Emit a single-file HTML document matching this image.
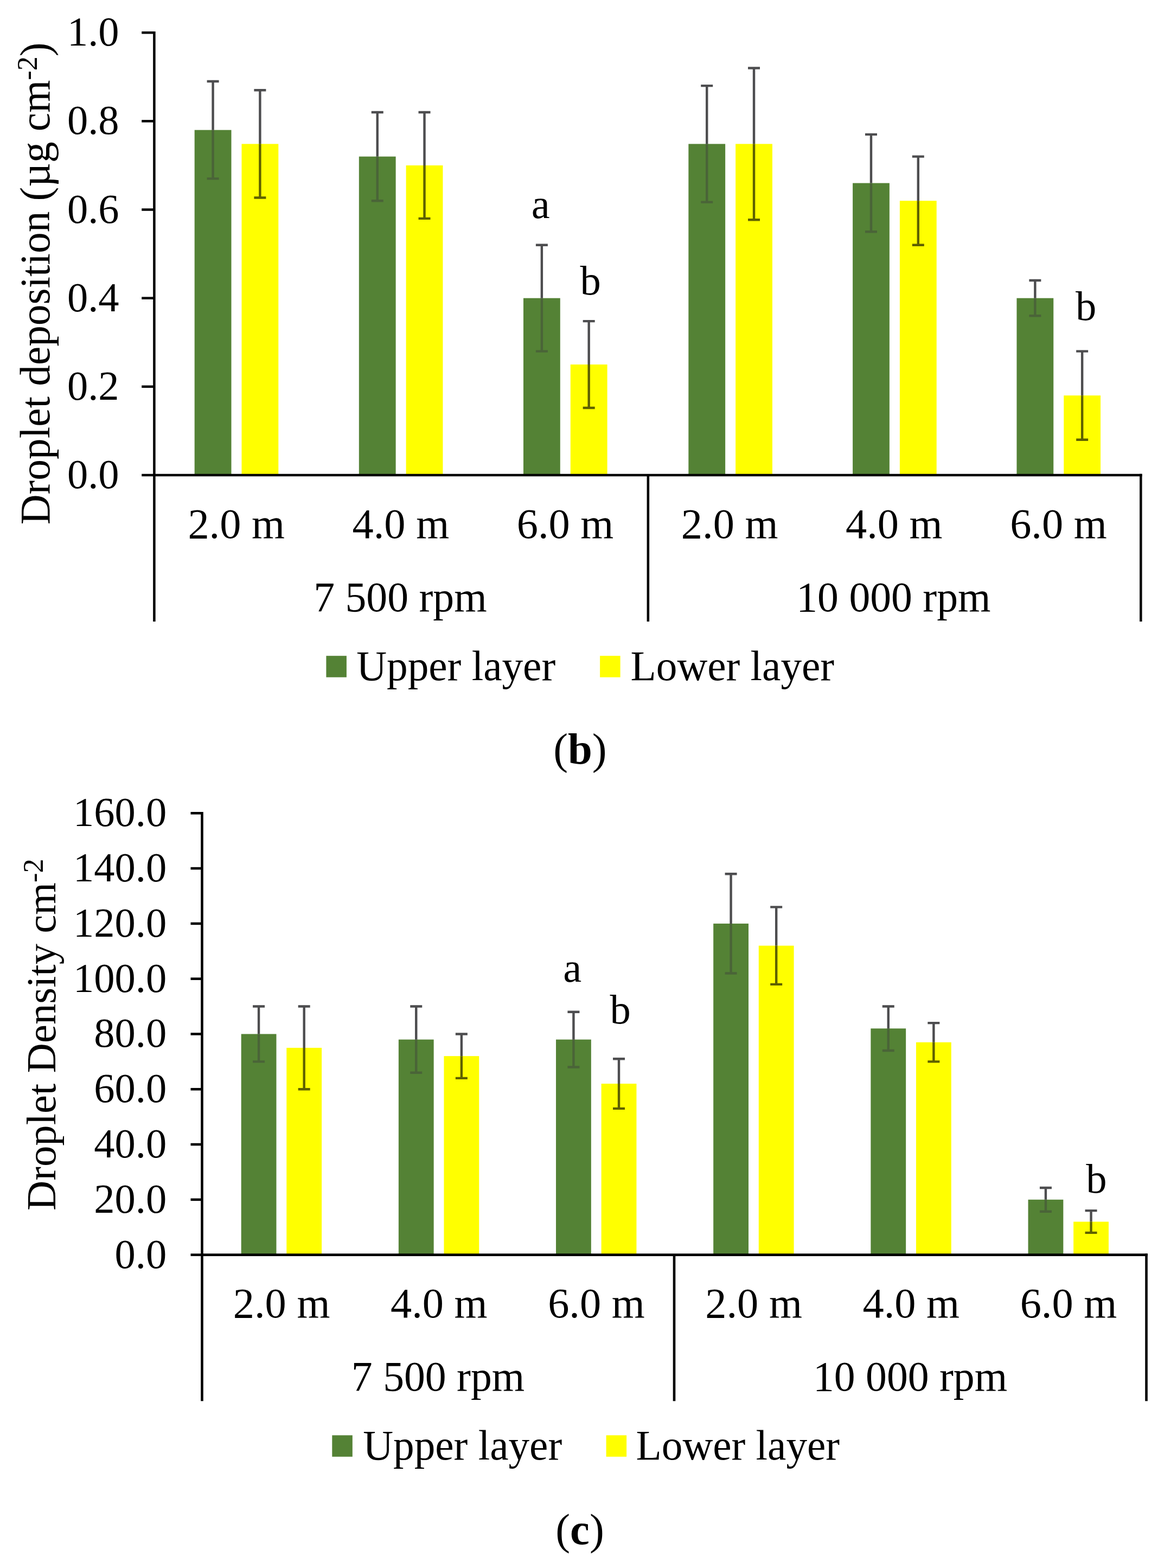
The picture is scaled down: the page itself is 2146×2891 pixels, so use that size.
<!DOCTYPE html>
<html><head><meta charset="utf-8"><title>Droplet deposition and density</title>
<style>html,body{margin:0;padding:0;background:#fff;}svg{display:block;}</style></head><body>
<svg width="2146" height="2891" viewBox="0 0 2146 2891" font-family="'Liberation Serif', 'Times New Roman', serif" fill="#000">
<rect width="2146" height="2891" fill="#fff"/>
<rect x="358.68" y="239.68" width="67.8" height="636.32" fill="#548235"/>
<rect x="445.48" y="265.37" width="67.8" height="610.63" fill="#FFFF00"/>
<rect x="661.83" y="288.62" width="67.8" height="587.38" fill="#548235"/>
<rect x="748.62" y="304.94" width="67.8" height="571.06" fill="#FFFF00"/>
<rect x="964.98" y="549.68" width="67.8" height="326.32" fill="#548235"/>
<rect x="1051.78" y="672.05" width="67.8" height="203.95" fill="#FFFF00"/>
<rect x="1269.33" y="265.37" width="67.8" height="610.63" fill="#548235"/>
<rect x="1356.13" y="265.37" width="67.8" height="610.63" fill="#FFFF00"/>
<rect x="1572.08" y="337.57" width="67.8" height="538.43" fill="#548235"/>
<rect x="1658.88" y="370.2" width="67.8" height="505.8" fill="#FFFF00"/>
<rect x="1874.43" y="549.68" width="67.8" height="326.32" fill="#548235"/>
<rect x="1961.23" y="729.16" width="67.8" height="146.84" fill="#FFFF00"/>
<path d="M392.58 149.94V239.68M381.58 149.94H403.58" stroke="#4d4d4f" stroke-width="4.4" fill="none"/>
<path d="M392.58 239.68V329.41M381.58 329.41H403.58" stroke="#4a6438" stroke-width="4.4" fill="none"/>
<path d="M479.38 166.25V265.37M468.38 166.25H490.38" stroke="#4d4d4f" stroke-width="4.4" fill="none"/>
<path d="M479.38 265.37V364.49M468.38 364.49H490.38" stroke="#5e6000" stroke-width="4.4" fill="none"/>
<path d="M695.73 207.04V288.62M684.73 207.04H706.73" stroke="#4d4d4f" stroke-width="4.4" fill="none"/>
<path d="M695.73 288.62V370.2M684.73 370.2H706.73" stroke="#4a6438" stroke-width="4.4" fill="none"/>
<path d="M782.52 207.04V304.94M771.52 207.04H793.52" stroke="#4d4d4f" stroke-width="4.4" fill="none"/>
<path d="M782.52 304.94V402.84M771.52 402.84H793.52" stroke="#5e6000" stroke-width="4.4" fill="none"/>
<path d="M998.88 451.78V549.68M987.88 451.78H1009.88" stroke="#4d4d4f" stroke-width="4.4" fill="none"/>
<path d="M998.88 549.68V647.58M987.88 647.58H1009.88" stroke="#4a6438" stroke-width="4.4" fill="none"/>
<path d="M1085.68 592.1V672.05M1074.68 592.1H1096.68" stroke="#4d4d4f" stroke-width="4.4" fill="none"/>
<path d="M1085.68 672.05V752M1074.68 752H1096.68" stroke="#5e6000" stroke-width="4.4" fill="none"/>
<path d="M1303.23 158.1V265.37M1292.23 158.1H1314.23" stroke="#4d4d4f" stroke-width="4.4" fill="none"/>
<path d="M1303.23 265.37V372.65M1292.23 372.65H1314.23" stroke="#4a6438" stroke-width="4.4" fill="none"/>
<path d="M1390.03 125.46V265.37M1379.03 125.46H1401.03" stroke="#4d4d4f" stroke-width="4.4" fill="none"/>
<path d="M1390.03 265.37V405.28M1379.03 405.28H1401.03" stroke="#5e6000" stroke-width="4.4" fill="none"/>
<path d="M1605.98 247.83V337.57M1594.98 247.83H1616.98" stroke="#4d4d4f" stroke-width="4.4" fill="none"/>
<path d="M1605.98 337.57V427.31M1594.98 427.31H1616.98" stroke="#4a6438" stroke-width="4.4" fill="none"/>
<path d="M1692.78 288.62V370.2M1681.78 288.62H1703.78" stroke="#4d4d4f" stroke-width="4.4" fill="none"/>
<path d="M1692.78 370.2V451.78M1681.78 451.78H1703.78" stroke="#5e6000" stroke-width="4.4" fill="none"/>
<path d="M1908.33 517.05V549.68M1897.33 517.05H1919.33" stroke="#4d4d4f" stroke-width="4.4" fill="none"/>
<path d="M1908.33 549.68V582.31M1897.33 582.31H1919.33" stroke="#4a6438" stroke-width="4.4" fill="none"/>
<path d="M1995.13 647.58V729.16M1984.13 647.58H2006.13" stroke="#4d4d4f" stroke-width="4.4" fill="none"/>
<path d="M1995.13 729.16V810.74M1984.13 810.74H2006.13" stroke="#5e6000" stroke-width="4.4" fill="none"/>
<g stroke="#000" stroke-width="4.5" fill="none">
<path d="M284.4 57.95V1146"/>
<path d="M261.2 876H284.4"/>
<path d="M261.2 712.84H284.4"/>
<path d="M261.2 549.68H284.4"/>
<path d="M261.2 386.52H284.4"/>
<path d="M261.2 223.36H284.4"/>
<path d="M261.2 60.2H284.4"/>
<path d="M284.4 876H2105.55"/>
<path d="M1194.85 876V1146"/>
<path d="M2103.3 873.75V1146"/>
</g>
<g font-size="76.5" text-anchor="end">
<text x="219.5" y="900">0.0</text>
<text x="219.5" y="736.84">0.2</text>
<text x="219.5" y="573.68">0.4</text>
<text x="219.5" y="410.52">0.6</text>
<text x="219.5" y="247.36">0.8</text>
<text x="219.5" y="84.2">1.0</text>
</g>
<g font-size="78.4" text-anchor="middle">
<text x="435.68" y="991.5">2.0 m</text>
<text x="738.83" y="991.5">4.0 m</text>
<text x="1041.98" y="991.5">6.0 m</text>
<text x="1345.13" y="991.5">2.0 m</text>
<text x="1648.28" y="991.5">4.0 m</text>
<text x="1951.43" y="991.5">6.0 m</text>
</g>
<g font-size="77.7" text-anchor="middle">
<text x="737.92" y="1127">7 500 rpm</text>
<text x="1647.38" y="1127">10 000 rpm</text>
</g>
<text x="979.71" y="401.7" font-size="76.5">a</text>
<text x="1069.5" y="543.3" font-size="76.5">b</text>
<text x="1983" y="589.9" font-size="76.5">b</text>
<text transform="translate(90.5 522.7) rotate(-90)" text-anchor="middle" font-size="77.3">Droplet deposition (µg cm<tspan dy="-22.7" font-size="52.5">-2</tspan><tspan dy="22.7">)</tspan></text>
<rect x="601.4" y="1209.2" width="37.5" height="39.5" fill="#548235"/>
<rect x="1106.1" y="1209.2" width="37.5" height="39.5" fill="#FFFF00"/>
<text x="657.18" y="1253.8" font-size="77.3">Upper layer</text>
<text x="1162.57" y="1253.8" font-size="77.3">Lower layer</text>
<text x="1069.4" y="1408.2" font-size="80.6" text-anchor="middle">(<tspan font-weight="bold">b</tspan>)</text>
<rect x="444.68" y="1906.45" width="64.8" height="407.15" fill="#548235"/>
<rect x="528.28" y="1931.9" width="64.8" height="381.7" fill="#FFFF00"/>
<rect x="734.85" y="1916.63" width="64.8" height="396.97" fill="#548235"/>
<rect x="818.45" y="1947.16" width="64.8" height="366.43" fill="#FFFF00"/>
<rect x="1025.02" y="1916.63" width="64.8" height="396.97" fill="#548235"/>
<rect x="1108.62" y="1998.06" width="64.8" height="315.54" fill="#FFFF00"/>
<rect x="1315.18" y="1702.88" width="64.8" height="610.72" fill="#548235"/>
<rect x="1398.78" y="1743.59" width="64.8" height="570.01" fill="#FFFF00"/>
<rect x="1605.35" y="1896.27" width="64.8" height="417.33" fill="#548235"/>
<rect x="1688.95" y="1921.72" width="64.8" height="391.88" fill="#FFFF00"/>
<rect x="1895.52" y="2211.81" width="64.8" height="101.79" fill="#548235"/>
<rect x="1979.12" y="2252.53" width="64.8" height="61.07" fill="#FFFF00"/>
<path d="M477.08 1855.56V1906.45M466.08 1855.56H488.08" stroke="#4d4d4f" stroke-width="4.4" fill="none"/>
<path d="M477.08 1906.45V1957.34M466.08 1957.34H488.08" stroke="#4a6438" stroke-width="4.4" fill="none"/>
<path d="M560.68 1855.56V1931.9M549.68 1855.56H571.68" stroke="#4d4d4f" stroke-width="4.4" fill="none"/>
<path d="M560.68 1931.9V2008.24M549.68 2008.24H571.68" stroke="#5e6000" stroke-width="4.4" fill="none"/>
<path d="M767.25 1855.56V1916.63M756.25 1855.56H778.25" stroke="#4d4d4f" stroke-width="4.4" fill="none"/>
<path d="M767.25 1916.63V1977.7M756.25 1977.7H778.25" stroke="#4a6438" stroke-width="4.4" fill="none"/>
<path d="M850.85 1906.45V1947.16M839.85 1906.45H861.85" stroke="#4d4d4f" stroke-width="4.4" fill="none"/>
<path d="M850.85 1947.16V1987.88M839.85 1987.88H861.85" stroke="#5e6000" stroke-width="4.4" fill="none"/>
<path d="M1057.42 1865.73V1916.63M1046.42 1865.73H1068.42" stroke="#4d4d4f" stroke-width="4.4" fill="none"/>
<path d="M1057.42 1916.63V1967.52M1046.42 1967.52H1068.42" stroke="#4a6438" stroke-width="4.4" fill="none"/>
<path d="M1141.02 1952.25V1998.06M1130.02 1952.25H1152.02" stroke="#4d4d4f" stroke-width="4.4" fill="none"/>
<path d="M1141.02 1998.06V2043.86M1130.02 2043.86H1152.02" stroke="#5e6000" stroke-width="4.4" fill="none"/>
<path d="M1347.58 1611.27V1702.88M1336.58 1611.27H1358.58" stroke="#4d4d4f" stroke-width="4.4" fill="none"/>
<path d="M1347.58 1702.88V1794.48M1336.58 1794.48H1358.58" stroke="#4a6438" stroke-width="4.4" fill="none"/>
<path d="M1431.18 1672.34V1743.59M1420.18 1672.34H1442.18" stroke="#4d4d4f" stroke-width="4.4" fill="none"/>
<path d="M1431.18 1743.59V1814.84M1420.18 1814.84H1442.18" stroke="#5e6000" stroke-width="4.4" fill="none"/>
<path d="M1637.75 1855.56V1896.27M1626.75 1855.56H1648.75" stroke="#4d4d4f" stroke-width="4.4" fill="none"/>
<path d="M1637.75 1896.27V1936.99M1626.75 1936.99H1648.75" stroke="#4a6438" stroke-width="4.4" fill="none"/>
<path d="M1721.35 1886.09V1921.72M1710.35 1886.09H1732.35" stroke="#4d4d4f" stroke-width="4.4" fill="none"/>
<path d="M1721.35 1921.72V1957.34M1710.35 1957.34H1732.35" stroke="#5e6000" stroke-width="4.4" fill="none"/>
<path d="M1927.92 2189.93V2211.81M1916.92 2189.93H1938.92" stroke="#4d4d4f" stroke-width="4.4" fill="none"/>
<path d="M1927.92 2211.81V2233.7M1916.92 2233.7H1938.92" stroke="#4a6438" stroke-width="4.4" fill="none"/>
<path d="M2011.52 2232.17V2252.53M2000.52 2232.17H2022.52" stroke="#4d4d4f" stroke-width="4.4" fill="none"/>
<path d="M2011.52 2252.53V2272.88M2000.52 2272.88H2022.52" stroke="#5e6000" stroke-width="4.4" fill="none"/>
<g stroke="#000" stroke-width="4.6" fill="none">
<path d="M372.5 1497V2583.2"/>
<path d="M351.5 2313.6H372.5"/>
<path d="M351.5 2211.81H372.5"/>
<path d="M351.5 2110.03H372.5"/>
<path d="M351.5 2008.24H372.5"/>
<path d="M351.5 1906.45H372.5"/>
<path d="M351.5 1804.66H372.5"/>
<path d="M351.5 1702.88H372.5"/>
<path d="M351.5 1601.09H372.5"/>
<path d="M351.5 1499.3H372.5"/>
<path d="M372.5 2313.6H2115.8"/>
<path d="M1243 2313.6V2583.2"/>
<path d="M2113.5 2311.3V2583.2"/>
</g>
<g font-size="76.5" text-anchor="end">
<text x="307.2" y="2337.6">0.0</text>
<text x="307.2" y="2235.81">20.0</text>
<text x="307.2" y="2134.03">40.0</text>
<text x="307.2" y="2032.24">60.0</text>
<text x="307.2" y="1930.45">80.0</text>
<text x="307.2" y="1828.66">100.0</text>
<text x="307.2" y="1726.88">120.0</text>
<text x="307.2" y="1625.09">140.0</text>
<text x="307.2" y="1523.3">160.0</text>
</g>
<g font-size="78.4" text-anchor="middle">
<text x="519.08" y="2428.5">2.0 m</text>
<text x="809.25" y="2428.5">4.0 m</text>
<text x="1099.42" y="2428.5">6.0 m</text>
<text x="1389.58" y="2428.5">2.0 m</text>
<text x="1679.75" y="2428.5">4.0 m</text>
<text x="1969.92" y="2428.5">6.0 m</text>
</g>
<g font-size="77.7" text-anchor="middle">
<text x="807.55" y="2563.5">7 500 rpm</text>
<text x="1678.05" y="2563.5">10 000 rpm</text>
</g>
<text x="1038.21" y="1809.8" font-size="76.5">a</text>
<text x="1124.4" y="1887" font-size="76.5">b</text>
<text x="2002.2" y="2198.9" font-size="76.5">b</text>
<text transform="translate(101.7 1907.6) rotate(-90)" text-anchor="middle" font-size="76.7">Droplet Density cm<tspan dy="-22.7" font-size="52.5">-2</tspan></text>
<rect x="612.3" y="2646.3" width="37.5" height="39.5" fill="#548235"/>
<rect x="1117.6" y="2646.3" width="37.5" height="39.5" fill="#FFFF00"/>
<text x="669.18" y="2690.8" font-size="77.3">Upper layer</text>
<text x="1172.57" y="2690.8" font-size="77.3">Lower layer</text>
<text x="1069" y="2847.24" font-size="80.6" text-anchor="middle">(<tspan font-weight="bold">c</tspan>)</text>
</svg></body></html>
